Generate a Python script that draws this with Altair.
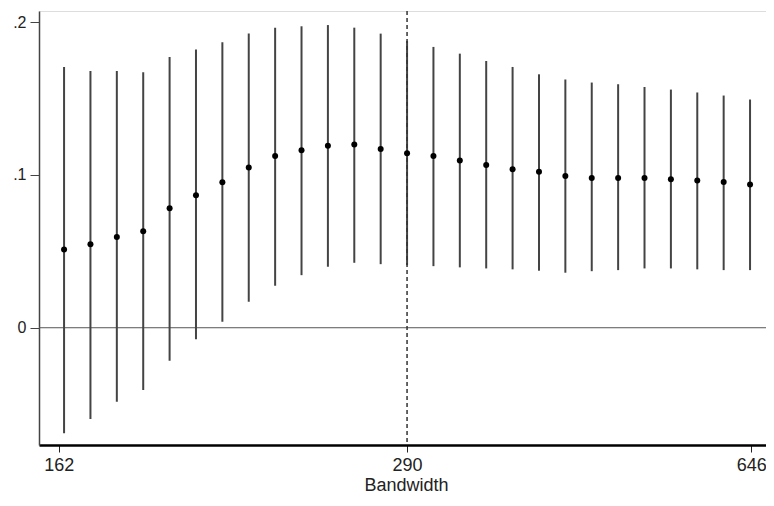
import altair as alt
import pandas as pd

# Bandwidth index (27 estimates), point estimates and 95% CI bounds
idx = list(range(27))
est = [0.0512, 0.0547, 0.0593, 0.0632, 0.0782, 0.0867, 0.0952, 0.1048, 0.1124,
       0.1161, 0.1190, 0.1199, 0.1170, 0.1142, 0.1124, 0.1094, 0.1065, 0.1037,
       0.1020, 0.0992, 0.0980, 0.0980, 0.0980, 0.0972, 0.0963, 0.0954, 0.0937]
upper = [0.1706, 0.1680, 0.1680, 0.1671, 0.1771, 0.1820, 0.1867, 0.1924, 0.1963,
         0.1972, 0.1980, 0.1963, 0.1924, 0.1876, 0.1837, 0.1793, 0.1745, 0.1706,
         0.1658, 0.1624, 0.1604, 0.1593, 0.1575, 0.1558, 0.1539, 0.1519, 0.1493]
lower = [-0.0690, -0.0597, -0.0484, -0.0407, -0.0216, -0.0076, 0.0039, 0.0170, 0.0275,
         0.0344, 0.0399, 0.0425, 0.0416, 0.0410, 0.0403, 0.0395, 0.0388, 0.0382,
         0.0373, 0.0360, 0.0370, 0.0377, 0.0388, 0.0388, 0.0382, 0.0377, 0.0377]

tick_pos = [-0.2, 13, 26.05]
tick_labels = ["162", "290", "646"]
optimal_idx = 13

df = pd.DataFrame({"i": idx, "est": est, "lo": lower, "hi": upper})

label_expr = " : ".join(
    f"datum.value == {p} ? '{l}'" for p, l in zip(tick_pos, tick_labels)
) + " : ''"

xscale = alt.Scale(domain=[-0.95, 26.87], nice=False, zero=False)
yscale = alt.Scale(domain=[-0.0767, 0.2072], nice=False, zero=False)

FONT = "Liberation Sans"

xaxis = alt.Axis(values=tick_pos, labelExpr=label_expr, title="Bandwidth",
                 grid=False, tickSize=7, tickColor="#222", tickWidth=1,
                 domainColor="#000", domainWidth=2.5, labelFontSize=18,
                 labelColor="#222", labelPadding=4, titleFontSize=18,
                 titleFontWeight="normal", titleColor="#222", titlePadding=2,
                 labelFont=FONT, titleFont=FONT)
yaxis = alt.Axis(values=[0, 0.1, 0.2],
                 labelExpr="datum.value == 0 ? '0' : datum.value > 0.15 ? '.2' : '.1'",
                 title=None, grid=False, tickSize=9, tickColor="#444",
                 domainColor="#444", domainWidth=1.5, labelFontSize=16,
                 labelColor="#222", labelPadding=4, labelFont=FONT)

base = alt.Chart(df)

bars = base.mark_rule(color="#444", strokeWidth=2).encode(
    x=alt.X("i:Q", scale=xscale, axis=xaxis),
    y=alt.Y("lo:Q", scale=yscale, axis=yaxis),
    y2="hi:Q",
)

pts = base.mark_circle(color="#000", opacity=1, size=36).encode(
    x=alt.X("i:Q", scale=xscale),
    y=alt.Y("est:Q", scale=yscale),
)

zero = alt.Chart(pd.DataFrame({"y": [0]})).mark_rule(color="#555", strokeWidth=1).encode(
    y=alt.Y("y:Q", scale=yscale)
)

vline = alt.Chart(pd.DataFrame({"x": [optimal_idx]})).mark_rule(
    color="#333", strokeWidth=1.5, strokeDash=[4, 3]
).encode(x=alt.X("x:Q", scale=xscale))

chart = alt.layer(zero, bars, vline, pts).properties(
    width=734, height=434,
    autosize=alt.AutoSizeParams(type="none"),
    padding={"left": 31, "top": 3, "right": -7, "bottom": 52},
).configure_view(stroke="#888", strokeWidth=1.5).configure(background="white")

chart.save("out.html", embed_options={"renderer": "svg", "actions": False})
